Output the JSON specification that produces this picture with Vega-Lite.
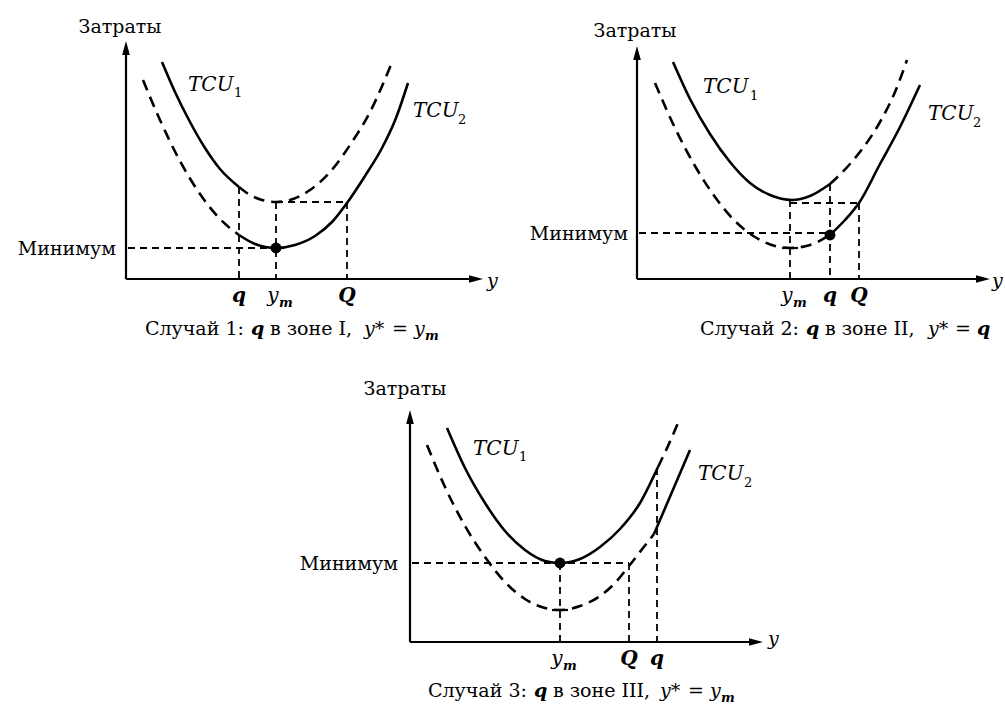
{
  "$schema": "https://vega.github.io/schema/vega-lite/v6.json",
  "width": 1005,
  "height": 706,
  "autosize": {"type": "fit", "contains": "padding"},
  "padding": 0,
  "background": "white",
  "config": {"view": {"stroke": null}, "text": {"font": "DejaVu Serif", "color": "black", "baseline": "alphabetic"}},
  "datasets": {
    "curves": [
      {"seg": "p1a", "style": "solid", "x": 162, "y": 62},
      {"seg": "p1a", "style": "solid", "x": 175, "y": 92},
      {"seg": "p1a", "style": "solid", "x": 190, "y": 122},
      {"seg": "p1a", "style": "solid", "x": 205, "y": 148},
      {"seg": "p1a", "style": "solid", "x": 220, "y": 169},
      {"seg": "p1a", "style": "solid", "x": 239, "y": 187},
      {"seg": "p1b", "style": "dashed", "x": 239, "y": 187},
      {"seg": "p1b", "style": "dashed", "x": 250, "y": 195},
      {"seg": "p1b", "style": "dashed", "x": 262, "y": 200},
      {"seg": "p1b", "style": "dashed", "x": 276, "y": 202},
      {"seg": "p1b", "style": "dashed", "x": 290, "y": 200},
      {"seg": "p1b", "style": "dashed", "x": 310, "y": 190},
      {"seg": "p1b", "style": "dashed", "x": 330, "y": 172},
      {"seg": "p1b", "style": "dashed", "x": 350, "y": 145},
      {"seg": "p1b", "style": "dashed", "x": 370, "y": 112},
      {"seg": "p1b", "style": "dashed", "x": 393, "y": 60},
      {"seg": "p1c", "style": "dashed", "x": 143, "y": 80},
      {"seg": "p1c", "style": "dashed", "x": 160, "y": 120},
      {"seg": "p1c", "style": "dashed", "x": 180, "y": 161},
      {"seg": "p1c", "style": "dashed", "x": 200, "y": 194},
      {"seg": "p1c", "style": "dashed", "x": 220, "y": 219},
      {"seg": "p1c", "style": "dashed", "x": 239, "y": 235},
      {"seg": "p1d", "style": "solid", "x": 239, "y": 235},
      {"seg": "p1d", "style": "solid", "x": 255, "y": 244},
      {"seg": "p1d", "style": "solid", "x": 276, "y": 248},
      {"seg": "p1d", "style": "solid", "x": 295, "y": 245},
      {"seg": "p1d", "style": "solid", "x": 315, "y": 236},
      {"seg": "p1d", "style": "solid", "x": 332, "y": 222},
      {"seg": "p1d", "style": "solid", "x": 347, "y": 203},
      {"seg": "p1d", "style": "solid", "x": 365, "y": 176},
      {"seg": "p1d", "style": "solid", "x": 382, "y": 148},
      {"seg": "p1d", "style": "solid", "x": 396, "y": 118},
      {"seg": "p1d", "style": "solid", "x": 408, "y": 83},
      {"seg": "p2a", "style": "solid", "x": 673, "y": 62},
      {"seg": "p2a", "style": "solid", "x": 690, "y": 99},
      {"seg": "p2a", "style": "solid", "x": 710, "y": 134},
      {"seg": "p2a", "style": "solid", "x": 730, "y": 162},
      {"seg": "p2a", "style": "solid", "x": 750, "y": 183},
      {"seg": "p2a", "style": "solid", "x": 770, "y": 195},
      {"seg": "p2a", "style": "solid", "x": 792, "y": 200},
      {"seg": "p2a", "style": "solid", "x": 810, "y": 196},
      {"seg": "p2a", "style": "solid", "x": 830, "y": 184},
      {"seg": "p2b", "style": "dashed", "x": 830, "y": 184},
      {"seg": "p2b", "style": "dashed", "x": 850, "y": 164},
      {"seg": "p2b", "style": "dashed", "x": 863, "y": 148},
      {"seg": "p2b", "style": "dashed", "x": 880, "y": 122},
      {"seg": "p2b", "style": "dashed", "x": 895, "y": 92},
      {"seg": "p2b", "style": "dashed", "x": 907, "y": 60},
      {"seg": "p2c", "style": "dashed", "x": 655, "y": 83},
      {"seg": "p2c", "style": "dashed", "x": 675, "y": 128},
      {"seg": "p2c", "style": "dashed", "x": 695, "y": 166},
      {"seg": "p2c", "style": "dashed", "x": 715, "y": 197},
      {"seg": "p2c", "style": "dashed", "x": 735, "y": 221},
      {"seg": "p2c", "style": "dashed", "x": 755, "y": 237},
      {"seg": "p2c", "style": "dashed", "x": 775, "y": 246},
      {"seg": "p2c", "style": "dashed", "x": 790, "y": 248},
      {"seg": "p2c", "style": "dashed", "x": 810, "y": 245},
      {"seg": "p2c", "style": "dashed", "x": 830, "y": 235},
      {"seg": "p2d", "style": "solid", "x": 830, "y": 235},
      {"seg": "p2d", "style": "solid", "x": 845, "y": 220},
      {"seg": "p2d", "style": "solid", "x": 859, "y": 203},
      {"seg": "p2d", "style": "solid", "x": 880, "y": 164},
      {"seg": "p2d", "style": "solid", "x": 900, "y": 127},
      {"seg": "p2d", "style": "solid", "x": 920, "y": 85},
      {"seg": "p3a", "style": "solid", "x": 447, "y": 428},
      {"seg": "p3a", "style": "solid", "x": 465, "y": 468},
      {"seg": "p3a", "style": "solid", "x": 485, "y": 503},
      {"seg": "p3a", "style": "solid", "x": 505, "y": 531},
      {"seg": "p3a", "style": "solid", "x": 525, "y": 550},
      {"seg": "p3a", "style": "solid", "x": 545, "y": 561},
      {"seg": "p3a", "style": "solid", "x": 560, "y": 563},
      {"seg": "p3a", "style": "solid", "x": 580, "y": 559},
      {"seg": "p3a", "style": "solid", "x": 600, "y": 547},
      {"seg": "p3a", "style": "solid", "x": 620, "y": 529},
      {"seg": "p3a", "style": "solid", "x": 640, "y": 503},
      {"seg": "p3a", "style": "solid", "x": 658, "y": 467},
      {"seg": "p3b", "style": "dashed", "x": 658, "y": 467},
      {"seg": "p3b", "style": "dashed", "x": 668, "y": 446},
      {"seg": "p3b", "style": "dashed", "x": 678, "y": 423},
      {"seg": "p3c", "style": "dashed", "x": 427, "y": 445},
      {"seg": "p3c", "style": "dashed", "x": 445, "y": 487},
      {"seg": "p3c", "style": "dashed", "x": 465, "y": 526},
      {"seg": "p3c", "style": "dashed", "x": 485, "y": 557},
      {"seg": "p3c", "style": "dashed", "x": 505, "y": 582},
      {"seg": "p3c", "style": "dashed", "x": 525, "y": 599},
      {"seg": "p3c", "style": "dashed", "x": 545, "y": 608},
      {"seg": "p3c", "style": "dashed", "x": 560, "y": 610},
      {"seg": "p3c", "style": "dashed", "x": 580, "y": 606},
      {"seg": "p3c", "style": "dashed", "x": 600, "y": 596},
      {"seg": "p3c", "style": "dashed", "x": 615, "y": 583},
      {"seg": "p3c", "style": "dashed", "x": 629, "y": 566},
      {"seg": "p3c", "style": "dashed", "x": 643, "y": 548},
      {"seg": "p3c", "style": "dashed", "x": 654, "y": 534},
      {"seg": "p3d", "style": "solid", "x": 654, "y": 534},
      {"seg": "p3d", "style": "solid", "x": 672, "y": 492},
      {"seg": "p3d", "style": "solid", "x": 690, "y": 450}
    ],
    "refs": [
      {"x": 239, "y": 187, "x2": 239, "y2": 279},
      {"x": 276, "y": 202, "x2": 276, "y2": 279},
      {"x": 276, "y": 202, "x2": 347, "y2": 202},
      {"x": 347, "y": 202, "x2": 347, "y2": 279},
      {"x": 128, "y": 248, "x2": 276, "y2": 248},
      {"x": 790, "y": 200, "x2": 790, "y2": 279},
      {"x": 830, "y": 184, "x2": 830, "y2": 279},
      {"x": 859, "y": 203, "x2": 859, "y2": 279},
      {"x": 790, "y": 203, "x2": 859, "y2": 203},
      {"x": 639, "y": 233, "x2": 830, "y2": 233},
      {"x": 412, "y": 563, "x2": 629, "y2": 563},
      {"x": 629, "y": 563, "x2": 629, "y2": 642},
      {"x": 560, "y": 563, "x2": 560, "y2": 642},
      {"x": 657, "y": 468, "x2": 657, "y2": 642}
    ],
    "ticks": [
      {"x": 782, "y": 248, "x2": 798, "y2": 248},
      {"x": 552, "y": 610, "x2": 568, "y2": 610}
    ],
    "axes": [
      {"x": 126, "y": 279, "x2": 126, "y2": 50},
      {"x": 126, "y": 279, "x2": 474, "y2": 279},
      {"x": 637, "y": 279, "x2": 637, "y2": 55},
      {"x": 637, "y": 279, "x2": 981, "y2": 279},
      {"x": 410, "y": 642, "x2": 410, "y2": 419},
      {"x": 410, "y": 642, "x2": 754, "y2": 642}
    ],
    "arrows": [
      {"dir": "up", "x": 126, "y": 48},
      {"dir": "up", "x": 637, "y": 53},
      {"dir": "up", "x": 410, "y": 417},
      {"dir": "right", "x": 476, "y": 279},
      {"dir": "right", "x": 983, "y": 279},
      {"dir": "right", "x": 756, "y": 642}
    ],
    "dots": [
      {"x": 276, "y": 248},
      {"x": 830, "y": 235},
      {"x": 560, "y": 563}
    ],
    "labels": [
      {"kind": "title", "text": "Затраты", "x": 120, "y": 33},
      {"kind": "title", "text": "Затраты", "x": 635, "y": 37},
      {"kind": "title", "text": "Затраты", "x": 405, "y": 395},
      {"kind": "minimum", "text": "Минимум", "x": 116, "y": 255},
      {"kind": "minimum", "text": "Минимум", "x": 628, "y": 240},
      {"kind": "minimum", "text": "Минимум", "x": 398, "y": 570},
      {"kind": "tcu", "text": "TCU", "x": 188, "y": 91},
      {"kind": "tcu", "text": "TCU", "x": 413, "y": 117},
      {"kind": "tcu", "text": "TCU", "x": 703, "y": 93},
      {"kind": "tcu", "text": "TCU", "x": 928, "y": 120},
      {"kind": "tcu", "text": "TCU", "x": 473, "y": 455},
      {"kind": "tcu", "text": "TCU", "x": 698, "y": 480},
      {"kind": "sub", "text": "1", "x": 234, "y": 97},
      {"kind": "sub", "text": "2", "x": 458, "y": 124},
      {"kind": "sub", "text": "1", "x": 750, "y": 100},
      {"kind": "sub", "text": "2", "x": 973, "y": 127},
      {"kind": "sub", "text": "1", "x": 519, "y": 461},
      {"kind": "sub", "text": "2", "x": 744, "y": 487},
      {"kind": "tick", "text": "q", "x": 239, "y": 302},
      {"kind": "tick", "text": "Q", "x": 347, "y": 302},
      {"kind": "tick", "text": "q", "x": 830, "y": 302},
      {"kind": "tick", "text": "Q", "x": 859, "y": 302},
      {"kind": "tick", "text": "Q", "x": 629, "y": 665},
      {"kind": "tick", "text": "q", "x": 657, "y": 665},
      {"kind": "ym", "text": "y", "x": 273, "y": 302},
      {"kind": "ym", "text": "y", "x": 787, "y": 302},
      {"kind": "ym", "text": "y", "x": 557, "y": 665},
      {"kind": "msub", "text": "m", "x": 279, "y": 307},
      {"kind": "msub", "text": "m", "x": 793, "y": 307},
      {"kind": "msub", "text": "m", "x": 563, "y": 670},
      {"kind": "ital", "text": "y", "x": 487, "y": 287},
      {"kind": "ital", "text": "y", "x": 992, "y": 287},
      {"kind": "ital", "text": "y", "x": 768, "y": 645},
      {"kind": "cap", "text": "Случай 1:", "x": 145, "y": 335},
      {"kind": "capq", "text": "q", "x": 251, "y": 335},
      {"kind": "cap", "text": "в зоне I,", "x": 270, "y": 335},
      {"kind": "ital", "text": "y*", "x": 364, "y": 335},
      {"kind": "cap", "text": "=", "x": 392, "y": 335},
      {"kind": "ital", "text": "y", "x": 414, "y": 335},
      {"kind": "msub", "text": "m", "x": 425, "y": 340},
      {"kind": "cap", "text": "Случай 2:", "x": 700, "y": 335},
      {"kind": "capq", "text": "q", "x": 806, "y": 335},
      {"kind": "cap", "text": "в зоне II,", "x": 825, "y": 335},
      {"kind": "ital", "text": "y*", "x": 928, "y": 335},
      {"kind": "cap", "text": "=", "x": 955, "y": 335},
      {"kind": "capq", "text": "q", "x": 977, "y": 335},
      {"kind": "cap", "text": "Случай 3:", "x": 428, "y": 697},
      {"kind": "capq", "text": "q", "x": 534, "y": 697},
      {"kind": "cap", "text": "в зоне III,", "x": 553, "y": 697},
      {"kind": "ital", "text": "y*", "x": 660, "y": 697},
      {"kind": "cap", "text": "=", "x": 688, "y": 697},
      {"kind": "ital", "text": "y", "x": 710, "y": 697},
      {"kind": "msub", "text": "m", "x": 721, "y": 702}
    ]
  },
  "encoding": {
    "x": {"field": "x", "type": "quantitative", "scale": {"domain": [0, 1005], "nice": false, "zero": false}, "axis": null},
    "y": {"field": "y", "type": "quantitative", "scale": {"domain": [0, 706], "reverse": true, "nice": false, "zero": false}, "axis": null}
  },
  "layer": [
    {
      "data": {"name": "refs"},
      "mark": {"type": "rule", "color": "black", "strokeWidth": 1.8, "strokeDash": [7, 5]},
      "encoding": {"x2": {"field": "x2"}, "y2": {"field": "y2"}}
    },
    {
      "data": {"name": "ticks"},
      "mark": {"type": "rule", "color": "black", "strokeWidth": 2.2},
      "encoding": {"x2": {"field": "x2"}, "y2": {"field": "y2"}}
    },
    {
      "data": {"name": "axes"},
      "mark": {"type": "rule", "color": "black", "strokeWidth": 2.2},
      "encoding": {"x2": {"field": "x2"}, "y2": {"field": "y2"}}
    },
    {
      "data": {"name": "curves"},
      "transform": [{"filter": "datum.style === 'solid'"}],
      "mark": {"type": "line", "color": "black", "strokeWidth": 2.6, "interpolate": "monotone"},
      "encoding": {"detail": {"field": "seg"}}
    },
    {
      "data": {"name": "curves"},
      "transform": [{"filter": "datum.style === 'dashed'"}],
      "mark": {"type": "line", "color": "black", "strokeWidth": 2.6, "interpolate": "monotone", "strokeDash": [11, 7]},
      "encoding": {"detail": {"field": "seg"}}
    },
    {
      "data": {"name": "arrows"},
      "transform": [{"filter": "datum.dir === 'up'"}],
      "mark": {"type": "point", "filled": true, "color": "black", "opacity": 1, "size": 196, "shape": "M0,-1L0.55,1L-0.55,1Z"}
    },
    {
      "data": {"name": "arrows"},
      "transform": [{"filter": "datum.dir === 'right'"}],
      "mark": {"type": "point", "filled": true, "color": "black", "opacity": 1, "size": 196, "shape": "M1,0L-1,-0.55L-1,0.55Z"}
    },
    {
      "data": {"name": "dots"},
      "mark": {"type": "circle", "color": "black", "opacity": 1, "size": 120}
    },
    {
      "data": {"name": "labels"},
      "transform": [{"filter": "datum.kind === 'title'"}],
      "mark": {"type": "text", "fontSize": 19, "align": "center"},
      "encoding": {"text": {"field": "text"}}
    },
    {
      "data": {"name": "labels"},
      "transform": [{"filter": "datum.kind === 'minimum'"}],
      "mark": {"type": "text", "fontSize": 19, "align": "right"},
      "encoding": {"text": {"field": "text"}}
    },
    {
      "data": {"name": "labels"},
      "transform": [{"filter": "datum.kind === 'cap'"}],
      "mark": {"type": "text", "fontSize": 19, "align": "left"},
      "encoding": {"text": {"field": "text"}}
    },
    {
      "data": {"name": "labels"},
      "transform": [{"filter": "datum.kind === 'capq'"}],
      "mark": {"type": "text", "fontSize": 19, "fontStyle": "italic", "fontWeight": "bold", "align": "left"},
      "encoding": {"text": {"field": "text"}}
    },
    {
      "data": {"name": "labels"},
      "transform": [{"filter": "datum.kind === 'ital'"}],
      "mark": {"type": "text", "fontSize": 19, "fontStyle": "italic", "align": "left"},
      "encoding": {"text": {"field": "text"}}
    },
    {
      "data": {"name": "labels"},
      "transform": [{"filter": "datum.kind === 'tcu'"}],
      "mark": {"type": "text", "fontSize": 20, "fontStyle": "italic", "align": "left"},
      "encoding": {"text": {"field": "text"}}
    },
    {
      "data": {"name": "labels"},
      "transform": [{"filter": "datum.kind === 'sub'"}],
      "mark": {"type": "text", "fontSize": 13, "align": "left"},
      "encoding": {"text": {"field": "text"}}
    },
    {
      "data": {"name": "labels"},
      "transform": [{"filter": "datum.kind === 'tick'"}],
      "mark": {"type": "text", "fontSize": 20, "fontStyle": "italic", "fontWeight": "bold", "align": "center"},
      "encoding": {"text": {"field": "text"}}
    },
    {
      "data": {"name": "labels"},
      "transform": [{"filter": "datum.kind === 'ym'"}],
      "mark": {"type": "text", "fontSize": 20, "fontStyle": "italic", "align": "center"},
      "encoding": {"text": {"field": "text"}}
    },
    {
      "data": {"name": "labels"},
      "transform": [{"filter": "datum.kind === 'msub'"}],
      "mark": {"type": "text", "fontSize": 13, "fontStyle": "italic", "fontWeight": "bold", "align": "left"},
      "encoding": {"text": {"field": "text"}}
    }
  ]
}
